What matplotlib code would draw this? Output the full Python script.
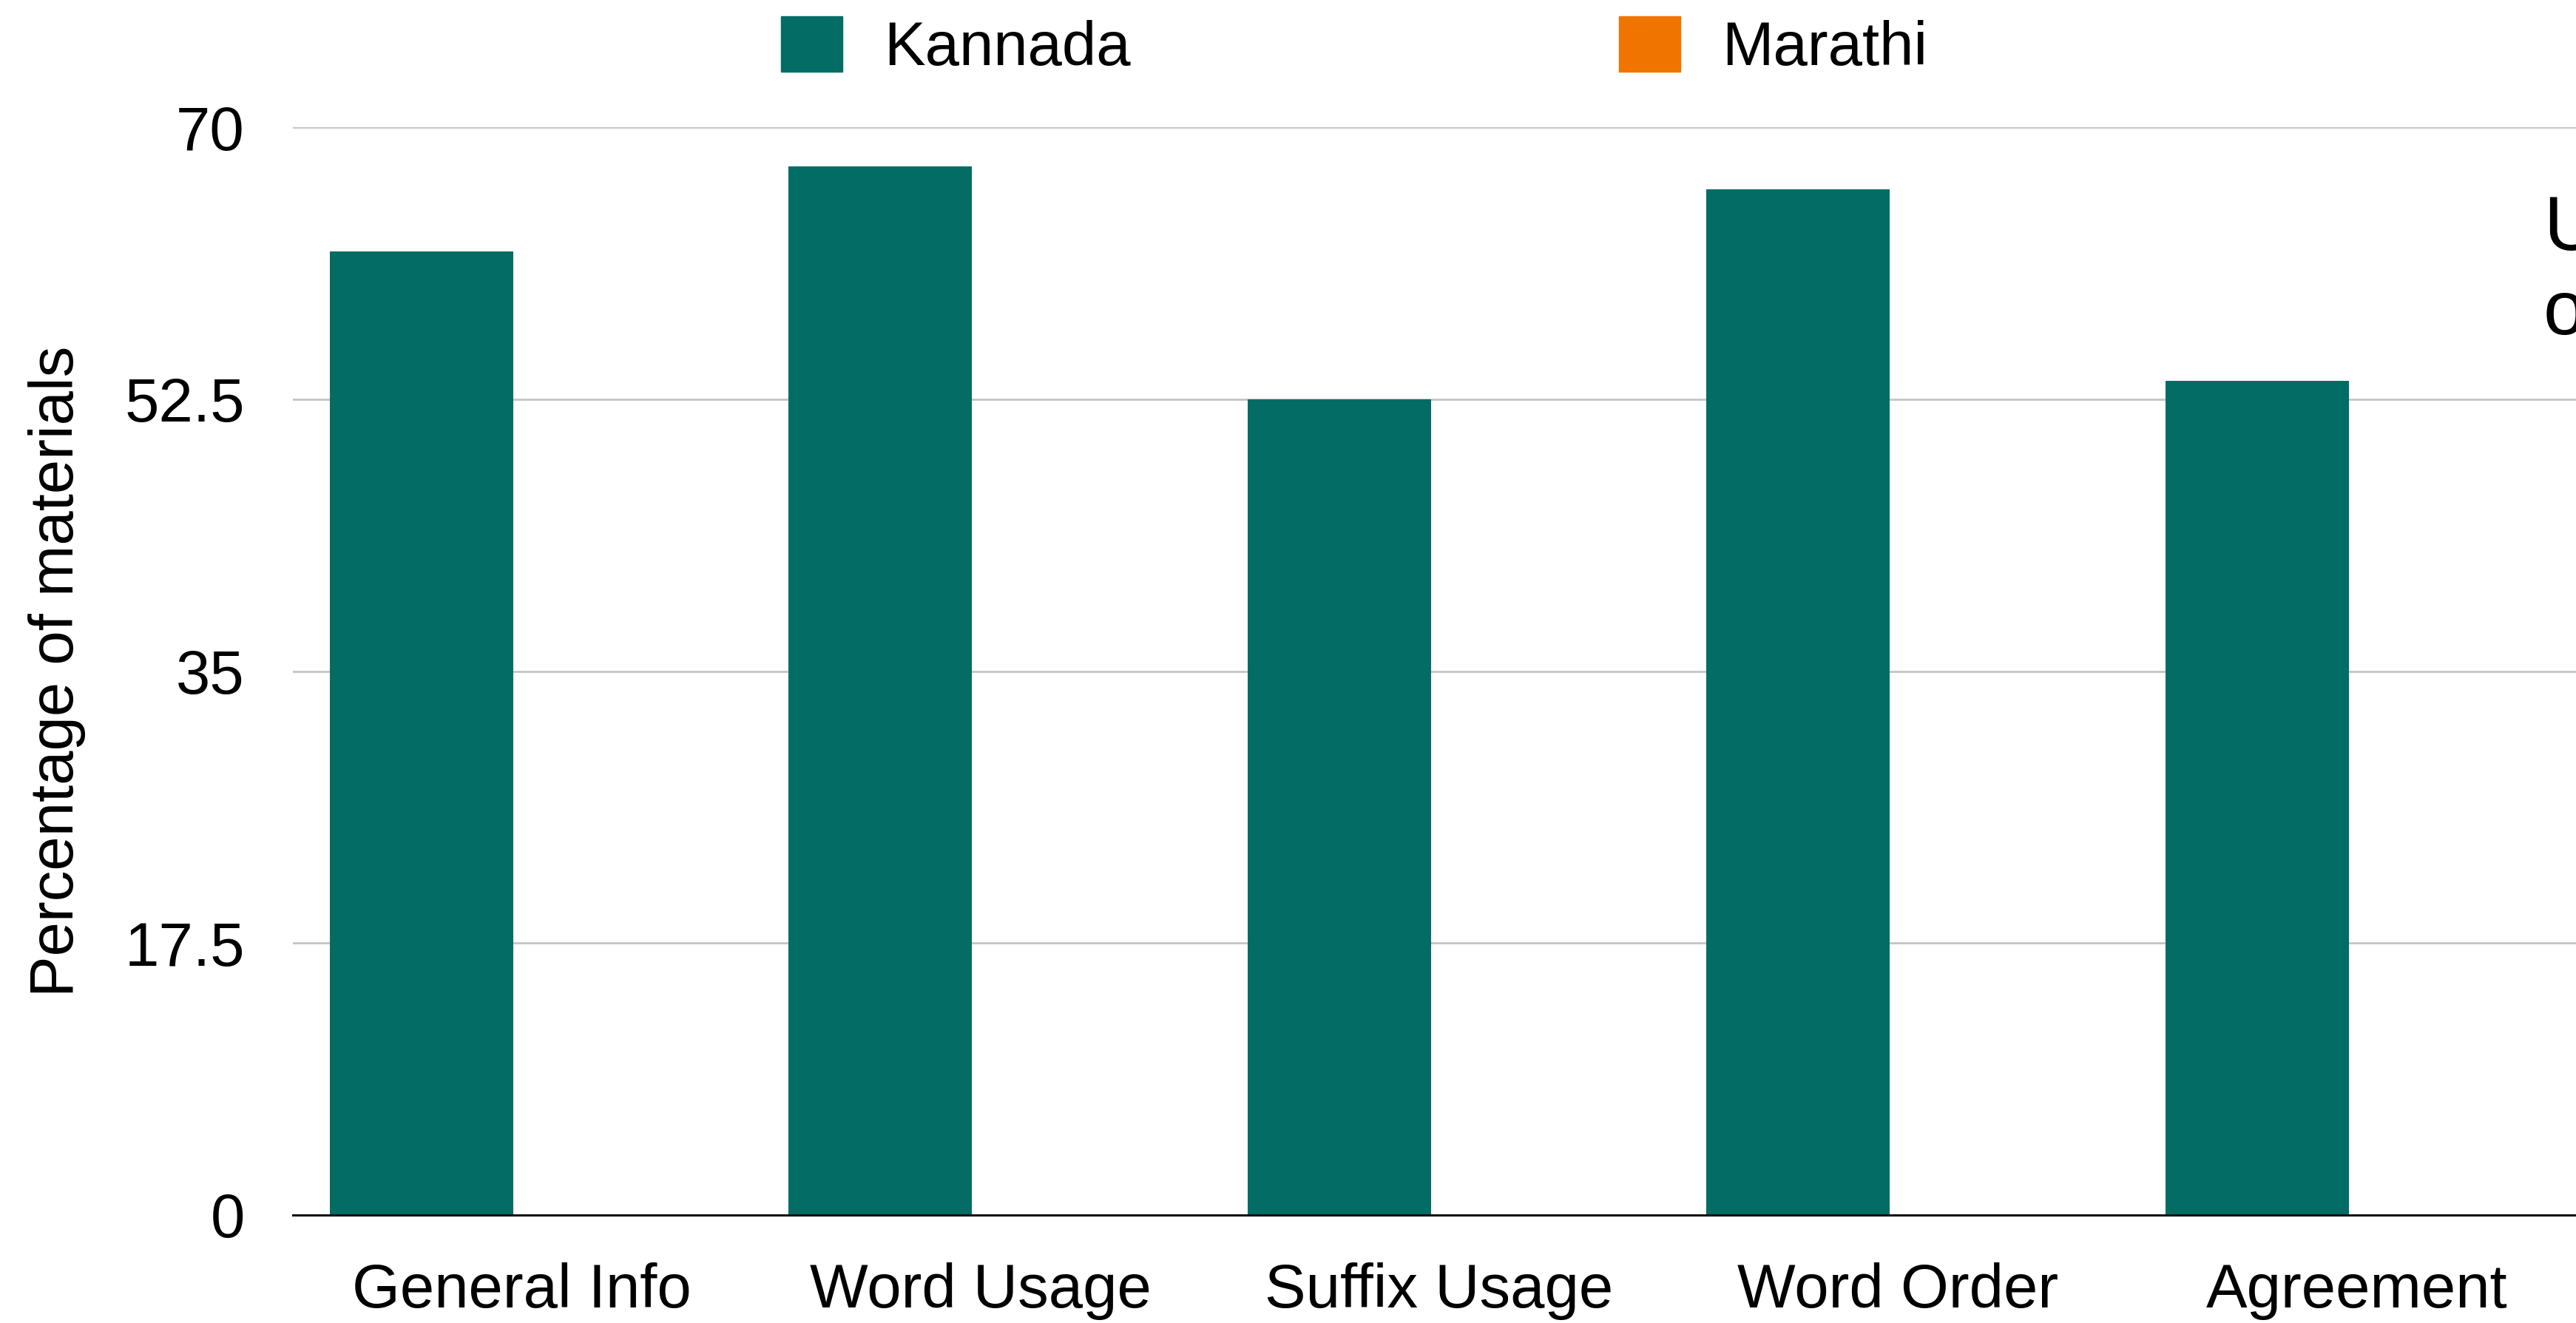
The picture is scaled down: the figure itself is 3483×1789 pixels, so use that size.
import matplotlib
matplotlib.use("Agg")
import matplotlib.pyplot as plt
import matplotlib.patches as mpatches
import numpy as np

plt.rcParams['font.family'] = ['Liberation Sans', 'DejaVu Sans']

categories = ['General Info', 'Word Usage', 'Suffix Usage', 'Word Order', 'Agreement']
kannada = [62.0, 67.5, 52.5, 66.0, 53.7]
marathi = [0, 0, 0, 0, 0]
series_names = ['Kannada', 'Marathi']
yticks = [0, 17.5, 35, 52.5, 70]
ytick_labels = ['0', '17.5', '35', '52.5', '70']

teal = '#026c65'
orange = '#f07400'
fs = 60

W, H = 3483, 1789
fig = plt.figure(figsize=(W / 100, H / 100), dpi=100)
ax = fig.add_axes([396 / W, 1 - 1643 / H, 1 - 396 / W, (1643 - 172) / H])

x = np.arange(len(categories))
bw = 0.4
ax.bar(x - bw, kannada, width=bw, align='edge', color=teal, linewidth=0, zorder=3)
ax.bar(x, marathi, width=bw, align='edge', color=orange, linewidth=0, zorder=3)

ax.set_xlim(-0.48, 4.495)
ax.set_ylim(0, 70)
ax.set_yticks(yticks)
ax.set_yticklabels(ytick_labels)
ax.set_xticks(x + 0.018)
ax.set_xticklabels(categories)
ax.tick_params(axis='both', length=0, labelsize=fs)
ax.tick_params(axis='y', pad=47)
ax.tick_params(axis='x', pad=46)

ax.grid(axis='y', color='#c4c4c4', linewidth=2.0, zorder=0)
ax.set_axisbelow(True)
for s in ['left', 'right', 'top']:
    ax.spines[s].set_visible(False)
ax.spines['bottom'].set_color('#111111')
ax.spines['bottom'].set_linewidth(2.2)
ax.spines['bottom'].set_zorder(4)

ax.set_ylabel('Percentage of materials', fontsize=fs)
ax.yaxis.set_label_coords(-0.0907, 0.5)

handles = [mpatches.Patch(color=teal, label=series_names[0]),
           mpatches.Patch(color=orange, label=series_names[1])]
ax.legend(handles=handles, loc='upper left', bbox_to_anchor=(1056 / W, 1 - 22 / H),
          bbox_transform=fig.transFigure, frameon=False, ncol=2, fontsize=fs,
          handlelength=1.0, handleheight=1.0, handletextpad=0.67,
          columnspacing=7.92, borderpad=0, borderaxespad=0)

# text box cut off at the right edge of the original
fig.text(3439 / W, 1 - 338 / H, 'U', fontsize=74, ha='left', va='baseline')
fig.text(3439 / W, 1 - 452 / H, 'o', fontsize=74, ha='left', va='baseline')

fig.savefig('out.png', dpi=100)
